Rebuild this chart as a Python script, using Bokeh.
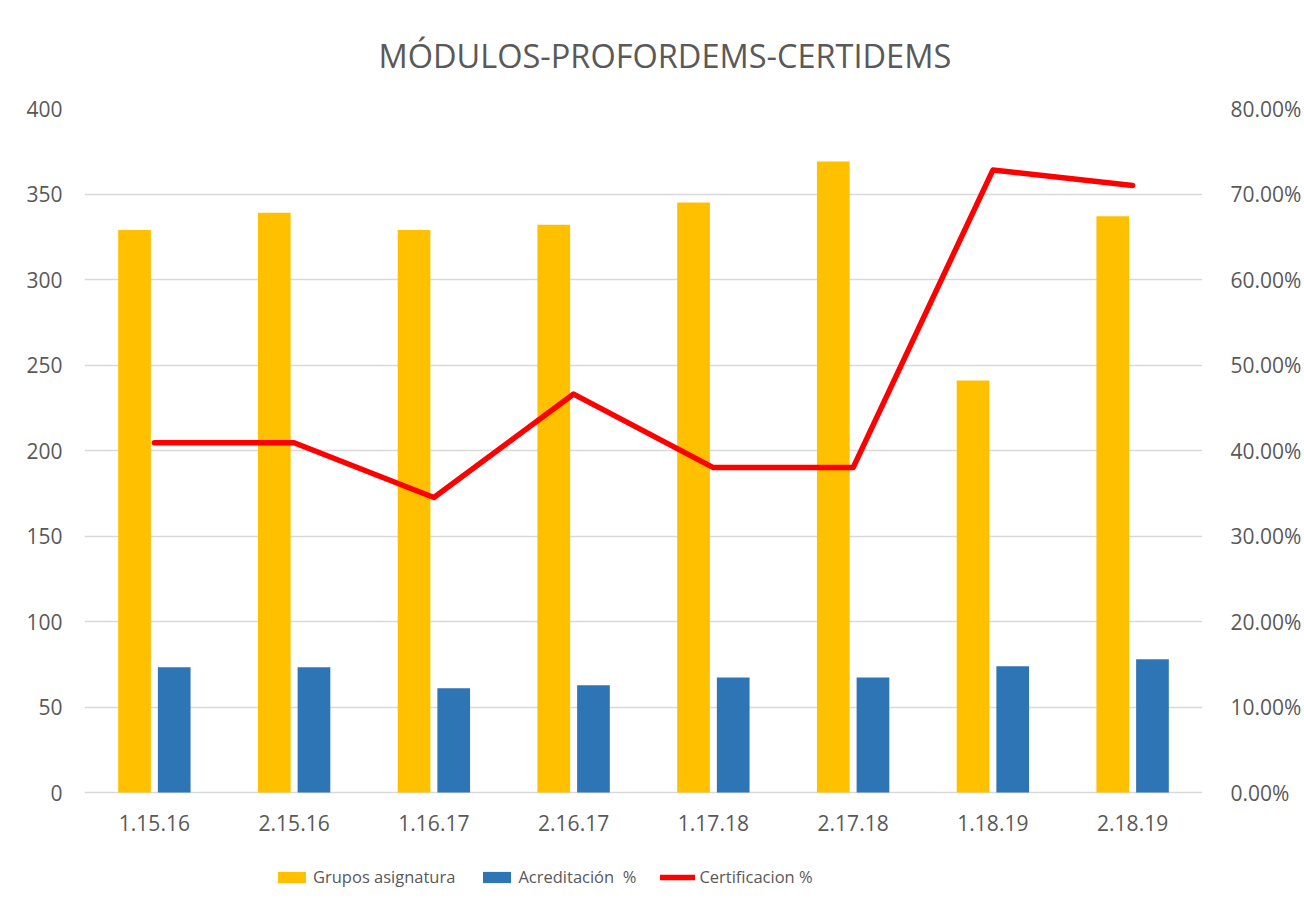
from bokeh.plotting import figure
from bokeh.models import (FactorRange, Range1d, LinearAxis, FixedTicker,
                          NumeralTickFormatter, Legend, LegendItem, ColumnDataSource)
from bokeh.transform import dodge
from bokeh.core.properties import value
from bokeh.embed import file_html
from bokeh.resources import INLINE

categories = ["1.15.16", "2.15.16", "1.16.17", "2.16.17", "1.17.18", "2.17.18", "1.18.19", "2.18.19"]
grupos = [329, 339, 329, 332, 345, 369, 241, 337]
acreditacion = [73.3, 73.3, 61.0, 62.7, 67.3, 67.3, 73.9, 78.0]
certificacion = [0.409, 0.409, 0.345, 0.466, 0.380, 0.380, 0.728, 0.710]

left_ticks = [0, 50, 100, 150, 200, 250, 300, 350, 400]
right_ticks = [0.0, 0.1, 0.2, 0.3, 0.4, 0.5, 0.6, 0.7, 0.8]

title_text = "MÓDULOS-PROFORDEMS-CERTIDEMS"
legend_labels = ["Grupos asignatura", "Acreditación  %", "Certificacion %"]

FONT = "Open Sans"
GREY = "#595959"

src = ColumnDataSource(dict(cat=categories, grupos=grupos, acred=acreditacion, cert=certificacion,
                            base=[0] * len(categories)))

# extra room below the zero line holds the category labels and the legend
low = -69
p = figure(x_range=FactorRange(*categories, range_padding=0), y_range=Range1d(low, 400),
           width=1304, height=910, output_backend="svg", toolbar_location=None,
           x_axis_location=None,
           min_border_left=84, min_border_right=93, min_border_top=108, min_border_bottom=0)
p.extra_y_ranges = {"pct": Range1d(low / 500, 0.8)}

r1 = p.vbar(x=dodge("cat", -0.142, range=p.x_range), top="grupos", width=0.234, source=src,
            fill_color="#FFC000", line_color=None)
r2 = p.vbar(x=dodge("cat", 0.142, range=p.x_range), top="acred", width=0.234, source=src,
            fill_color="#2E75B6", line_color=None)
r3 = p.line(x="cat", y="cert", source=src, y_range_name="pct", line_color="#FF0000",
            line_width=5.5, line_cap="round", line_join="round")

# category labels under the zero line
p.text(x="cat", y="base", text="cat", source=src, y_offset=30,
       text_font=value(FONT), text_font_size="21px", text_color=GREY,
       text_align="center", text_baseline="middle")

p.yaxis.ticker = FixedTicker(ticks=left_ticks)
right = LinearAxis(y_range_name="pct", ticker=FixedTicker(ticks=right_ticks),
                   formatter=NumeralTickFormatter(format="0.00%"))
p.add_layout(right, "right")

for ax in [p.yaxis[0], right]:
    ax.axis_line_color = None
    ax.major_tick_line_color = None
    ax.minor_tick_line_color = None
    ax.major_label_text_font = FONT
    ax.major_label_text_font_size = "21px"
    ax.major_label_text_color = GREY
p.yaxis[0].major_label_standoff = 16
right.major_label_standoff = 22

p.xgrid.grid_line_color = None
p.ygrid.grid_line_color = "#d9d9d9"
p.ygrid.grid_line_width = 1.5
p.outline_line_color = None

p.title.text = title_text
p.title.text_font = FONT
p.title.text_font_size = "32.5px"
p.title.text_font_style = "normal"
p.title.text_color = GREY
p.title.align = "left"
p.title.offset = 294
p.title.standoff = 61

legend = Legend(items=[LegendItem(label=legend_labels[0], renderers=[r1]),
                       LegendItem(label=legend_labels[1], renderers=[r2]),
                       LegendItem(label=legend_labels[2], renderers=[r3])],
                orientation="horizontal", location=(190, 22),
                glyph_width=35, glyph_height=14, label_standoff=4, spacing=24,
                padding=0, margin=0, border_line_color=None, background_fill_alpha=0,
                label_text_font=FONT, label_text_font_size="16.5px", label_text_color=GREY)
p.add_layout(legend, "center")

open("out.html", "w").write(file_html(p, INLINE))
